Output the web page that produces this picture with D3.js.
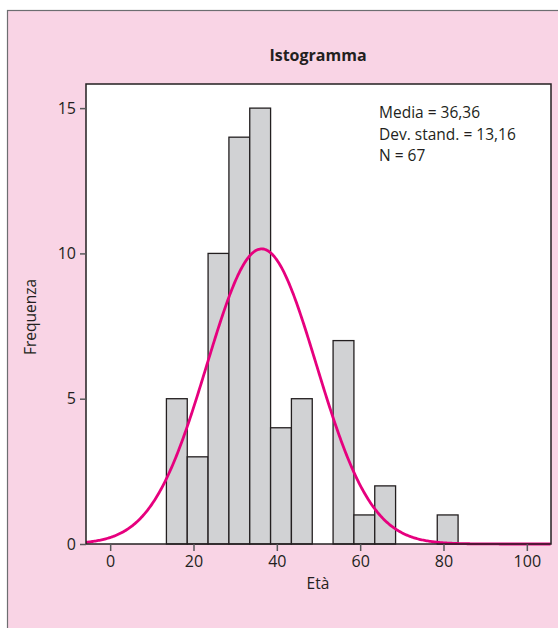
<!DOCTYPE html>
<html>
<head>
<meta charset="utf-8">
<script src="https://cdn.jsdelivr.net/npm/d3@7"></script>
<style>
  html, body { margin: 0; padding: 0; background: #fff; }
  svg { display: block; font-family: "Open Sans", "Noto Sans", sans-serif; }
</style>
</head>
<body>
<div id="root"></div>
<script>
// Histogram bins (age classes, width 5) and counts
const binStarts = [13.5, 18.5, 23.5, 28.5, 33.5, 38.5, 43.5, 48.5, 53.5, 58.5, 63.5, 68.5, 73.5, 78.5];
const counts    = [5,    3,    10,   14,   15,   4,    5,    0,    7,    1,    2,    0,    0,    1];
const binWidth = 5;

// Stats shown in the box
const mean = 36.36;
const sd = 13.16;
const n = 67;
const statLines = ['Media = 36,36', 'Dev. stand. = 13,16', 'N = 67'];

const xTicks = [0, 20, 40, 60, 80, 100];
const yTicks = [0, 5, 10, 15];

const width = 558;
const height = 628;

const plot = { left: 86, right: 551, top: 84, bottom: 544 };

const svg = d3.select('#root')
  .append('svg')
  .attr('width', width)
  .attr('height', height);

// pink panel
svg.append('rect')
  .attr('x', 7.5).attr('y', 10.5)
  .attr('width', width + 10).attr('height', height + 10)
  .attr('fill', '#f9d4e5')
  .attr('stroke', '#6d6e71')
  .attr('stroke-width', 1.2);

const x = d3.scaleLinear().domain([-5.8, 105.8]).range([plot.left, plot.right]);
const y = d3.scaleLinear().domain([0, 15.83]).range([plot.bottom, plot.top]);

// plot background
svg.append('rect')
  .attr('x', plot.left).attr('y', plot.top)
  .attr('width', plot.right - plot.left).attr('height', plot.bottom - plot.top)
  .attr('fill', '#fff');

// bars
svg.append('g')
  .selectAll('rect')
  .data(binStarts.map((s, i) => ({ s, c: counts[i] })).filter(d => d.c > 0))
  .join('rect')
  .attr('x', d => x(d.s))
  .attr('y', d => y(d.c))
  .attr('width', d => x(d.s + binWidth) - x(d.s))
  .attr('height', d => y(0) - y(d.c))
  .attr('fill', '#d1d2d4')
  .attr('stroke', '#231f20')
  .attr('stroke-width', 1.3);

// normal curve scaled to counts (n * binWidth * density)
const curveX = d3.range(x.domain()[0], x.domain()[1] + 0.01, 0.25);
const dens = v => n * binWidth / (sd * Math.sqrt(2 * Math.PI)) * Math.exp(-0.5 * ((v - mean) / sd) ** 2);
svg.append('path')
  .datum(curveX)
  .attr('fill', 'none')
  .attr('stroke', '#e6007e')
  .attr('stroke-width', 2.8)
  .attr('d', d3.line().x(d => x(d)).y(d => y(dens(d))));

// plot border
svg.append('rect')
  .attr('x', plot.left).attr('y', plot.top)
  .attr('width', plot.right - plot.left).attr('height', plot.bottom - plot.top)
  .attr('fill', 'none')
  .attr('stroke', '#231f20')
  .attr('stroke-width', 1.5);

// axes
const xAxis = svg.append('g')
  .attr('transform', `translate(0,${plot.bottom})`)
  .call(d3.axisBottom(x).tickValues(xTicks).tickSize(7).tickSizeOuter(0).tickPadding(5));
const yAxis = svg.append('g')
  .attr('transform', `translate(${plot.left},0)`)
  .call(d3.axisLeft(y).tickValues(yTicks).tickSize(6).tickSizeOuter(0).tickPadding(4));

[xAxis, yAxis].forEach(g => {
  g.select('.domain').remove();
  g.selectAll('line').attr('stroke', '#58595b').attr('stroke-width', 1.5);
  g.selectAll('text')
    .attr('fill', '#231f20')
    .style('font-size', '16px')
    .style('font-family', '"Open Sans", "Noto Sans", sans-serif');
});

// title
svg.append('text')
  .attr('x', 318).attr('y', 61)
  .attr('text-anchor', 'middle')
  .attr('font-size', 16).attr('font-weight', 'bold')
  .attr('fill', '#231f20')
  .text('Istogramma');

// stats
svg.append('g')
  .selectAll('text')
  .data(statLines)
  .join('text')
  .attr('x', 379)
  .attr('y', (d, i) => 118 + i * 21.5)
  .attr('font-size', 15.5)
  .attr('fill', '#231f20')
  .text(d => d);

// axis labels
svg.append('text')
  .attr('text-anchor', 'middle')
  .attr('transform', `translate(36,317)rotate(-90)`)
  .attr('font-size', 15.5)
  .attr('fill', '#231f20')
  .text('Frequenza');

svg.append('text')
  .attr('x', 318).attr('y', 589)
  .attr('text-anchor', 'middle')
  .attr('font-size', 15.5)
  .attr('fill', '#231f20')
  .text('Età');
</script>
</body>
</html>
